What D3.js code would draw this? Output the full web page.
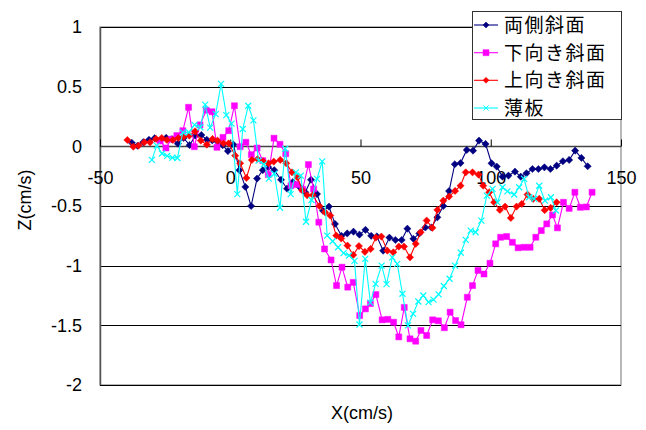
<!DOCTYPE html>
<html>
<head>
<meta charset="utf-8">
<script src="https://cdn.jsdelivr.net/npm/d3@7"></script>
<style>
  html, body { margin: 0; padding: 0; background: #fff; }
  svg { display: block; }
  text { font-family: "Liberation Sans", Arial, sans-serif; }
  .jp { font-family: "Noto Sans CJK JP", "Noto Sans CJK SC", sans-serif; }
</style>
</head>
<body>
<svg id="chart" width="646" height="430"></svg>
<script>
// Series names (legend order)
const seriesNames = ["両側斜面", "下向き斜面", "上向き斜面", "薄板"];

// 両側斜面
const bothX = [-37.8,-35.6,-33.4,-31.2,-29,-26.8,-24.6,-22.4,-20.1,-17.9,-15.6,-13.3,-11.1,-9,-6.9,-4.9,-2.9,-0.9,1.2,3.5,5.8,8.0,10.3,12.5,14.6,16.9,19.5,21.8,24.0,26.6,28.8,31.0,33.3,35.6,37.9,40.2,42.7,44.9,47.3,49.6,51.9,54.1,56.3,58.7,61.1,63.4,65.8,68.0,70.3,72.6,74.9,77.2,79.5,81.8,84.0,86.2,88.4,90.8,93.2,95.5,98.0,100.3,102.3,104.5,106.8,109.3,111.5,113.7,116.0,118.3,120.6,122.9,125.3,127.7,130.1,132.4,134.8,137.2];
const bothZ = [0.03,0.005,0.035,0.055,0.068,0.052,0.072,0.06,0.022,0.07,0.01,0.09,0.095,0.055,0.05,0.04,0.01,-0.04,0.015,-0.2,-0.34,-0.5,-0.27,-0.2,-0.175,-0.2,-0.28,-0.355,-0.3,-0.34,-0.385,-0.28,-0.4,-0.54,-0.505,-0.65,-0.75,-0.73,-0.715,-0.74,-0.7,-0.75,-0.755,-0.875,-0.765,-0.785,-0.785,-0.69,-0.775,-0.73,-0.68,-0.68,-0.595,-0.5,-0.375,-0.15,-0.14,-0.03,-0.036,0.048,0.02,-0.142,-0.17,-0.254,-0.245,-0.212,-0.254,-0.226,-0.19,-0.19,-0.176,-0.19,-0.162,-0.125,-0.114,-0.036,-0.097,-0.167];

// 下向き斜面
const downX = [-26.9,-24.7,-22.6,-20.5,-18.2,-16,-13.8,-11.6,-9.2,-7,-5.1,-2.8,-0.6,1.6,3.8,6,8.1,10.3,12.5,14.6,16.8,19.1,21.3,23.3,25.6,27.8,30,32,34,36.2,38.7,40.8,42.9,45.1,47.2,49.7,51.9,53.8,55.9,58.3,60.5,62.7,64.7,66.8,69,71.2,73.2,75.4,77.7,79.9,82.2,84.4,86.5,88.6,91,93,95.1,97.4,99.7,101.9,103.8,106.1,108.3,110.5,112.8,115.1,117.3,119.4,121.5,123.7,125.6,127.9,130.1,132.3,134.4,136.7,138.9];
const downZ = [0.045,-0.014,0.06,0.09,0.131,0.327,-0.003,0.18,0.303,0.29,-0.008,0.075,0.131,0.34,-0.003,0.034,-0.07,-0.014,-0.12,-0.237,0.068,0.017,-0.062,-0.33,-0.32,-0.36,-0.153,-0.357,-0.636,-0.86,-0.952,-1.167,-1.013,-1.18,-1.14,-1.418,-1.362,-1.318,-1.242,-1.454,-1.45,-1.474,-1.597,-1.35,-1.613,-1.633,-1.543,-1.585,-1.454,-1.462,-1.52,-1.39,-1.46,-1.495,-1.265,-1.167,-1.04,-1.07,-0.98,-0.817,-0.762,-0.756,-0.804,-0.85,-0.846,-0.846,-0.762,-0.706,-0.65,-0.575,-0.683,-0.469,-0.52,-0.385,-0.511,-0.508,-0.385];

// 上向き斜面
const upX = [-39.5,-37.2,-35.2,-33,-30.8,-28.5,-26.3,-24.3,-22,-19.9,-17.9,-15.7,-13.5,-11.3,-9,-6.8,-4.9,-2.6,-0.6,1.9,3.8,6.2,8.3,10.5,12.6,14.7,16.7,19.2,21.5,23.7,25.8,27.6,29.5,31.7,34.2,36.4,38.4,40.7,42.6,45,47.2,49.4,51.7,53.9,55.9,58,60.3,62.6,64.7,66.7,69,71.2,73.1,75.4,77.6,79.5,81.8,84,86.3,88.4,90.4,93,95.3,97.1,99.4,101.3,103.5,105.5,107.7,109.9,111.9,114.1,116.3,118.6,120.7,123,125.3];
const upZ = [0.053,-0.003,0.006,0.034,0.034,0.062,0.07,0.053,0.053,0.07,0.08,0.09,0.126,0.048,0.014,0.062,0.048,0.025,0.025,-0.078,-0.142,-0.265,-0.114,-0.106,-0.125,-0.142,-0.128,-0.114,-0.142,-0.218,-0.26,-0.368,-0.41,-0.408,-0.5,-0.553,-0.58,-0.748,-0.772,-0.832,-0.91,-0.836,-0.884,-0.86,-0.765,-0.756,-0.874,-0.888,-0.84,-0.84,-0.93,-0.817,-0.72,-0.622,-0.683,-0.533,-0.455,-0.421,-0.374,-0.33,-0.218,-0.218,-0.237,-0.33,-0.385,-0.469,-0.533,-0.505,-0.6,-0.505,-0.483,-0.404,-0.44,-0.44,-0.535,-0.516,-0.469];

// 薄板
const plateX = [-30.1,-28.2,-26.2,-24.2,-22.2,-20.3,-18.2,-15.9,-13.7,-11.5,-9.6,-7.7,-5.6,-3.5,-1.5,0.5,2.7,4.8,6.9,8.9,10.9,12.9,14.8,16.9,19.1,21.1,23.2,25.2,27.1,29.1,31.2,33.3,35.3,37.2,39.3,41.4,43.5,45.6,47.7,49.6,51.8,53.8,55.8,58.1,60,62.2,64.1,66.1,68.2,70.2,72.2,74.1,76.1,78,80,82,84.2,86.3,88.5,90.4,92.3,94.2,96.4,98.5,100.7,102.6,104.5,106.4,109,110.9,112.8,114.7,116.7,118.6,120.8,123.1,125];
const plateZ = [-0.114,0.006,-0.06,-0.08,-0.095,-0.098,0.117,0.117,0.18,0.16,0.35,0.157,0.27,0.523,0.262,0.19,-0.4,0.145,0.34,0.218,-0.12,-0.15,-0.27,-0.23,-0.515,-0.02,-0.4,-0.218,-0.245,-0.632,-0.45,-0.273,-0.126,-0.748,-0.795,-0.846,-0.895,-0.915,-0.96,-1.493,-0.943,-1.31,-1.152,-1.0,-1.155,-0.93,-0.985,-1.235,-1.5,-1.404,-1.3,-1.25,-1.306,-1.285,-1.24,-1.17,-1.11,-1.0,-0.892,-0.784,-0.706,-0.72,-0.622,-0.413,-0.357,-0.469,-0.343,-0.377,-0.404,-0.343,-0.273,-0.427,-0.44,-0.33,-0.455,-0.427,-0.538];

// Axis ticks
const xTicks = [-50, 0, 50, 100, 150];
const yTicks = [1, 0.5, 0, -0.5, -1, -1.5, -2];

const seriesColors = ["#000080", "#FF00FF", "#FF0000", "#00FFFF"];
const seriesMarkers = ["diamond", "square", "diamond", "cross"];

const series = [
  { name: seriesNames[0], xs: bothX, zs: bothZ },
  { name: seriesNames[1], xs: downX, zs: downZ },
  { name: seriesNames[2], xs: upX, zs: upZ },
  { name: seriesNames[3], xs: plateX, zs: plateZ }
].map((s, i) => ({
  ...s,
  color: seriesColors[i],
  marker: seriesMarkers[i],
  points: s.xs.map((x, j) => ({ x, z: s.zs[j] }))
}));

// Plain hyphen-minus for negative tick labels
const fmt = d => String(d).replace("\u2212", "-");

const svg = d3.select("#chart");
const L = 100, R = 621, T = 27, B = 385;
const x = d3.scaleLinear().domain([-50, 150]).range([L, R]);
const y = d3.scaleLinear().domain([-2, 1]).range([B, T]);

// Plot-area frame
svg.append("rect")
  .attr("x", L).attr("y", T).attr("width", R - L).attr("height", B - T)
  .attr("fill", "#fff").attr("stroke", "#a0a0a0").attr("stroke-width", 1.5);

// Horizontal gridlines
svg.append("g").selectAll("line").data(yTicks.filter(v => v !== 0)).join("line")
  .attr("x1", L).attr("x2", R)
  .attr("y1", d => Math.round(y(d)) + 0.5).attr("y2", d => Math.round(y(d)) + 0.5)
  .attr("stroke", "#000").attr("stroke-width", 1);

// Left axis line
svg.append("line")
  .attr("x1", L + 0.5).attr("x2", L + 0.5).attr("y1", T).attr("y2", B)
  .attr("stroke", "#555").attr("stroke-width", 1.5);

// Y tick labels
const yAxis = d3.axisLeft(y).tickValues(yTicks).tickSize(0).tickPadding(18).tickFormat(fmt);
const gy = svg.append("g").attr("transform", `translate(${L},0)`).call(yAxis);
gy.select(".domain").remove();
gy.selectAll("text").attr("font-size", 18).attr("font-family", "Liberation Sans, Arial, sans-serif").attr("fill", "#000");

// X axis along Z = 0, ticks pointing up, labels below
const x0 = Math.round(y(0)) + 0.5;
svg.append("line")
  .attr("x1", L).attr("x2", R).attr("y1", x0).attr("y2", x0)
  .attr("stroke", "#444").attr("stroke-width", 1.5);
const xAxis = d3.axisBottom(x).tickValues(xTicks).tickSize(0).tickPadding(0).tickFormat(fmt);
const gx = svg.append("g").attr("transform", `translate(0,${x0})`).call(xAxis);
gx.select(".domain").remove();
gx.selectAll(".tick line").attr("y1", 0).attr("y2", -7).attr("stroke", "#000");
gx.selectAll("text").attr("dy", null).attr("y", 37).attr("font-size", 18)
  .attr("font-family", "Liberation Sans, Arial, sans-serif").attr("fill", "#000");

// Marker shapes
function markerPath(type, r) {
  if (type === "diamond") return `M0,${-r}L${r},0L0,${r}L${-r},0Z`;
  if (type === "square") return `M${-r},${-r}H${r}V${r}H${-r}Z`;
  return `M${-r},${-r}L${r},${r}M${-r},${r}L${r},${-r}`;
}
const markerSize = { diamond: 3.6, square: 3, cross: 3 };

const line = d3.line().x(d => x(d.x)).y(d => y(d.z));
const gs = svg.append("g");
series.forEach(s => {
  const g = gs.append("g");
  g.append("path").datum(s.points).attr("d", line)
    .attr("fill", "none").attr("stroke", s.color).attr("stroke-width", 1.1);
  g.selectAll("path.m").data(s.points).join("path").attr("class", "m")
    .attr("transform", d => `translate(${x(d.x)},${y(d.z)})`)
    .attr("d", markerPath(s.marker, markerSize[s.marker]))
    .attr("fill", s.marker === "cross" ? "none" : s.color)
    .attr("stroke", s.color).attr("stroke-width", s.marker === "cross" ? 1.2 : 0.5);
});

// Axis titles
svg.append("text").attr("x", 362).attr("y", 419).attr("text-anchor", "middle")
  .attr("font-size", 18).text("X(cm/s)");
svg.append("text").attr("transform", "translate(31,200) rotate(-90)")
  .attr("text-anchor", "middle").attr("font-size", 18).text("Z(cm/s)");

// Legend
const lg = svg.append("g");
lg.append("rect").attr("x", 472.5).attr("y", 11.5).attr("width", 149).attr("height", 108)
  .attr("fill", "#fff").attr("stroke", "#333").attr("stroke-width", 1);
const rowY = [25, 52.7, 80.3, 108];
series.forEach((s, i) => {
  const ry = rowY[i];
  lg.append("line").attr("x1", 474).attr("x2", 498).attr("y1", ry).attr("y2", ry)
    .attr("stroke", s.color).attr("stroke-width", 1.1);
  lg.append("path").attr("transform", `translate(486,${ry})`)
    .attr("d", markerPath(s.marker, s.marker === "cross" ? 2.5 : 3))
    .attr("fill", s.marker === "cross" ? "none" : s.color)
    .attr("stroke", s.color).attr("stroke-width", s.marker === "cross" ? 1 : 0.5);
  lg.append("text").attr("class", "jp").attr("x", 504).attr("y", ry)
    .attr("dy", "0.36em").attr("font-size", 19).attr("letter-spacing", 1.5)
    .attr("fill", "#000").text(s.name);
});
</script>
</body>
</html>
